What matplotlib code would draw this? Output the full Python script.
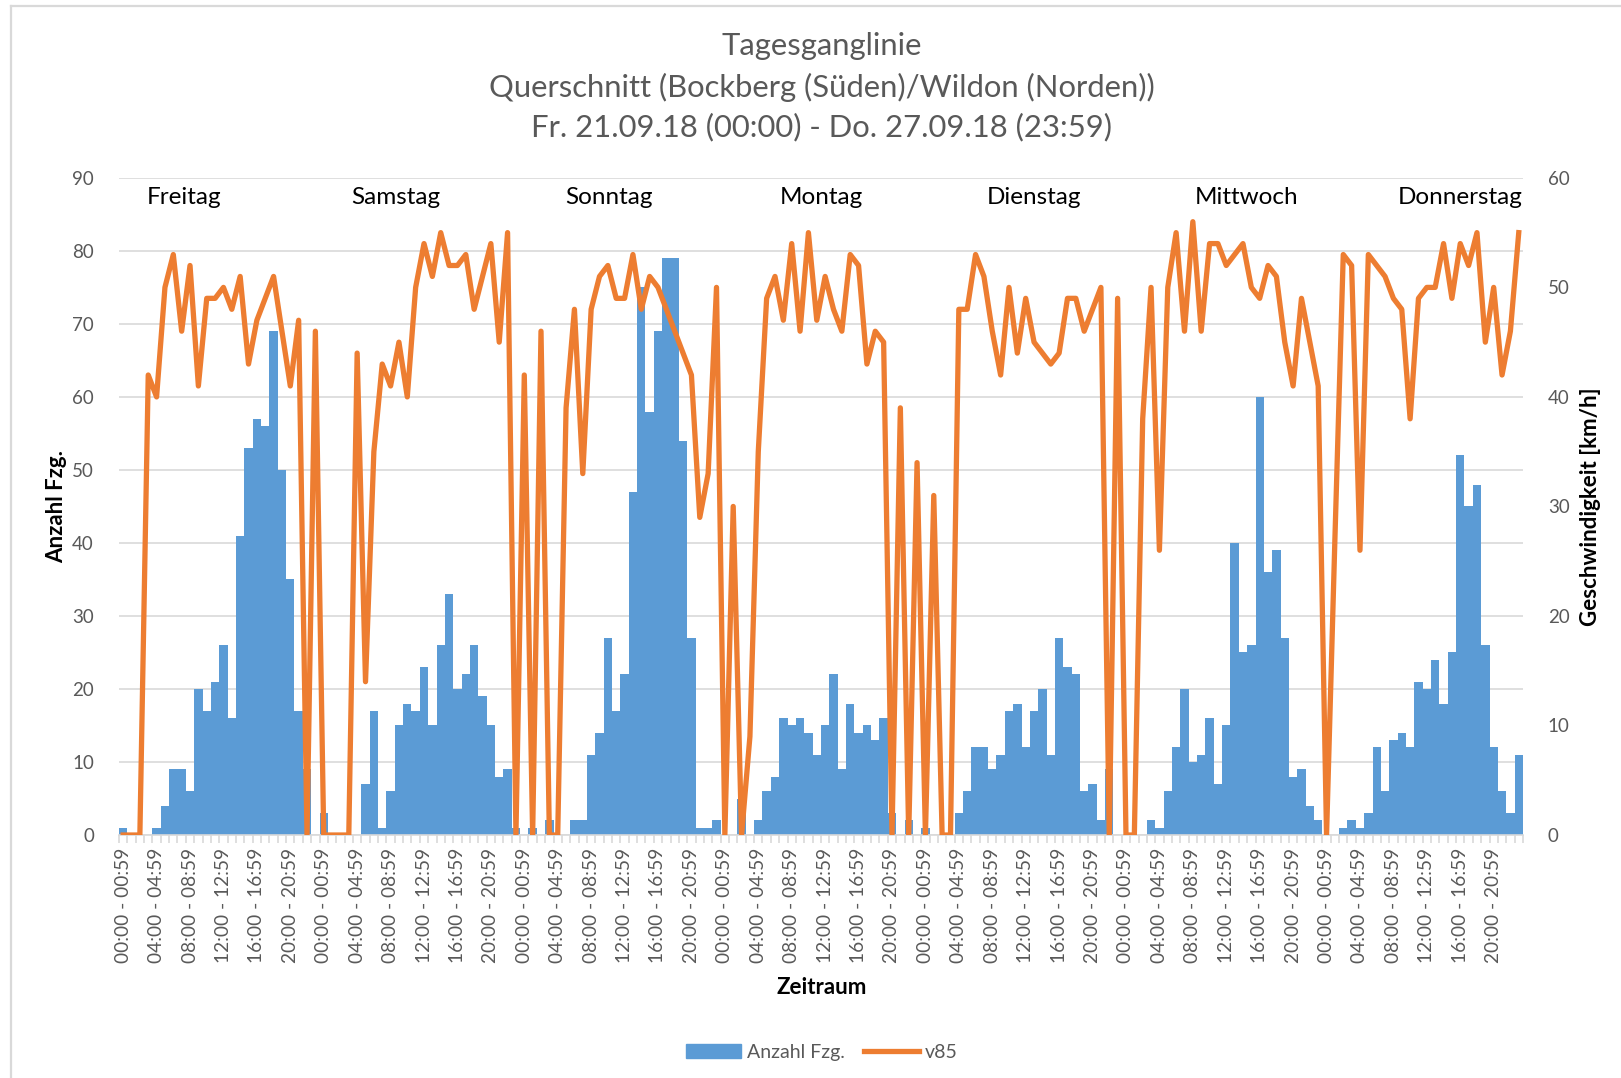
import numpy as np
import matplotlib
matplotlib.use("Agg")
import matplotlib.pyplot as plt
from matplotlib.lines import Line2D
from matplotlib.patches import Patch

plt.rcParams['font.family'] = ['Lato', 'DejaVu Sans']

days = ["Freitag", "Samstag", "Sonntag", "Montag", "Dienstag", "Mittwoch", "Donnerstag"]
hour_labels = ["%02d:00 - %02d:59" % (h, h) for h in range(24)]

# Anzahl Fzg. per hour
cnt_fr = [1, 0, 0, 0, 1, 4, 9, 9, 6, 20, 17, 21, 26, 16, 41, 53, 57, 56, 69, 50, 35, 17, 9, 0]
cnt_sa = [3, 0, 0, 0, 0, 7, 17, 1, 6, 15, 18, 17, 23, 15, 26, 33, 20, 22, 26, 19, 15, 8, 9, 1]
cnt_so = [0, 1, 0, 2, 0, 0, 2, 2, 11, 14, 27, 17, 22, 47, 75, 58, 69, 79, 79, 54, 27, 1, 1, 2]
cnt_mo = [0, 0, 5, 0, 2, 6, 8, 16, 15, 16, 14, 11, 15, 22, 9, 18, 14, 15, 13, 16, 3, 0, 2, 0]
cnt_di = [1, 0, 0, 0, 3, 6, 12, 12, 9, 11, 17, 18, 12, 17, 20, 11, 27, 23, 22, 6, 7, 2, 9, 0]
cnt_mi = [0, 0, 0, 2, 1, 6, 12, 20, 10, 11, 16, 7, 15, 40, 25, 26, 60, 36, 39, 27, 8, 9, 4, 2]
cnt_do = [0, 0, 1, 2, 1, 3, 12, 6, 13, 14, 12, 21, 20, 24, 18, 25, 52, 45, 48, 26, 12, 6, 3, 11]

# v85 [km/h] per hour
v85_fr = [0, 0, 0, 42, 40, 50, 53, 46, 52, 41, 49, 49, 50, 48, 51, 43, 47, 49, 51, 46, 41, 47, 0, 46]
v85_sa = [0, 0, 0, 0, 44, 14, 35, 43, 41, 45, 40, 50, 54, 51, 55, 52, 52, 53, 48, 51, 54, 45, 55, 0]
v85_so = [42, 0, 46, 0, 0, 39, 48, 33, 48, 51, 52, 49, 49, 53, 48, 51, 50, 48, 46, 44, 42, 29, 33, 50]
v85_mo = [0, 30, 0, 9, 35, 49, 51, 47, 54, 46, 55, 47, 51, 48, 46, 53, 52, 43, 46, 45, 0, 39, 0, 34]
v85_di = [0, 31, 0, 0, 48, 48, 53, 51, 46, 42, 50, 44, 49, 45, 44, 43, 44, 49, 49, 46, 48, 50, 0, 49]
v85_mi = [0, 0, 38, 50, 26, 50, 55, 46, 56, 46, 54, 54, 52, 53, 54, 50, 49, 52, 51, 45, 41, 49, 45, 41]
v85_do = [0, 27, 53, 52, 26, 53, 52, 51, 49, 48, 38, 49, 50, 50, 54, 49, 54, 52, 55, 45, 50, 42, 46, 55]

counts = cnt_fr + cnt_sa + cnt_so + cnt_mo + cnt_di + cnt_mi + cnt_do
v85 = v85_fr + v85_sa + v85_so + v85_mo + v85_di + v85_mi + v85_do
labels = hour_labels * len(days)

BLUE = "#5B9BD5"
ORANGE = "#ED7D31"
GRID = "#D9D9D9"
GRAY = "#595959"

fig = plt.figure(figsize=(16.21, 10.78), dpi=100)
ax = fig.add_axes([0.0734, 0.2254, 0.8661, 0.6096])
ax2 = ax.twinx()

x = np.arange(len(counts))
ax.bar(x, counts, width=1.0, color=BLUE, zorder=2)
ax2.plot(x, v85, color=ORANGE, lw=3.8, solid_joinstyle='round', zorder=3)

ax.set_xlim(-0.5, len(counts) - 0.5)
ax.set_ylim(0, 90)
ax2.set_ylim(0, 60)
ax.set_yticks(range(0, 91, 10))
ax2.set_yticks(range(0, 61, 10))
ax.set_axisbelow(True)
ax.yaxis.grid(True, color=GRID, lw=1.2)

major = list(range(0, len(counts), 4))
ax.set_xticks(major)
ax.set_xticklabels([labels[i] for i in major], rotation=90, color=GRAY, fontsize=13.8)
ax.set_xticks(np.arange(-0.5, len(counts), 1), minor=True)
ax.tick_params(axis='x', which='major', length=0, pad=9)
ax.tick_params(axis='x', which='minor', length=6, color=GRID, width=1.2)
ax.tick_params(axis='y', length=0, labelcolor=GRAY, labelsize=13.5, pad=18)
ax2.tick_params(axis='y', length=0, labelcolor=GRAY, labelsize=13.5, pad=18)

for a in (ax, ax2):
    for s in ('top', 'left', 'right'):
        a.spines[s].set_visible(False)
ax2.spines['bottom'].set_visible(False)
ax.spines['bottom'].set_color(GRID)
ax.spines['bottom'].set_linewidth(1.2)

for i, d in enumerate(days):
    ax.text(0.046 + i * 0.1515, 0.970, d, transform=ax.transAxes,
            ha='center', va='center', fontsize=17.5, color='black', zorder=5)

fig.text(0.507, 0.957, "Tagesganglinie", ha='center', va='center', fontsize=22.3, color=GRAY)
fig.text(0.507, 0.919, "Querschnitt (Bockberg (Süden)/Wildon (Norden))", ha='center', va='center',
         fontsize=22.3, color=GRAY)
fig.text(0.507, 0.882, "Fr. 21.09.18 (00:00) - Do. 27.09.18 (23:59)", ha='center', va='center',
         fontsize=22.3, color=GRAY)

fig.text(0.035, 0.53, "Anzahl Fzg.", rotation=90, ha='center', va='center',
         fontsize=16, fontweight='bold', color='black')
fig.text(0.981, 0.53, "Geschwindigkeit [km/h]", rotation=90, ha='center', va='center',
         fontsize=16, fontweight='bold', color='black')
fig.text(0.507, 0.084, "Zeitraum", ha='center', va='center',
         fontsize=16, fontweight='bold', color='black')

handles = [Patch(facecolor=BLUE, edgecolor=BLUE), Line2D([], [], color=ORANGE, lw=3.8)]
fig.legend(handles, ["Anzahl Fzg.", "v85"], loc='center', bbox_to_anchor=(0.507, 0.024),
           ncol=2, frameon=False, fontsize=14, labelcolor=GRAY, handlelength=2.8,
           handleheight=0.7, columnspacing=1.0, handletextpad=0.3)

# outer chart border
fig.add_artist(Line2D([0.0068, 0.0068], [0.0, 0.9944], color=GRID, lw=1.6, transform=fig.transFigure))
fig.add_artist(Line2D([0.0068, 1.0], [0.9944, 0.9944], color=GRID, lw=1.6, transform=fig.transFigure))

fig.savefig("out.png", dpi=100)
